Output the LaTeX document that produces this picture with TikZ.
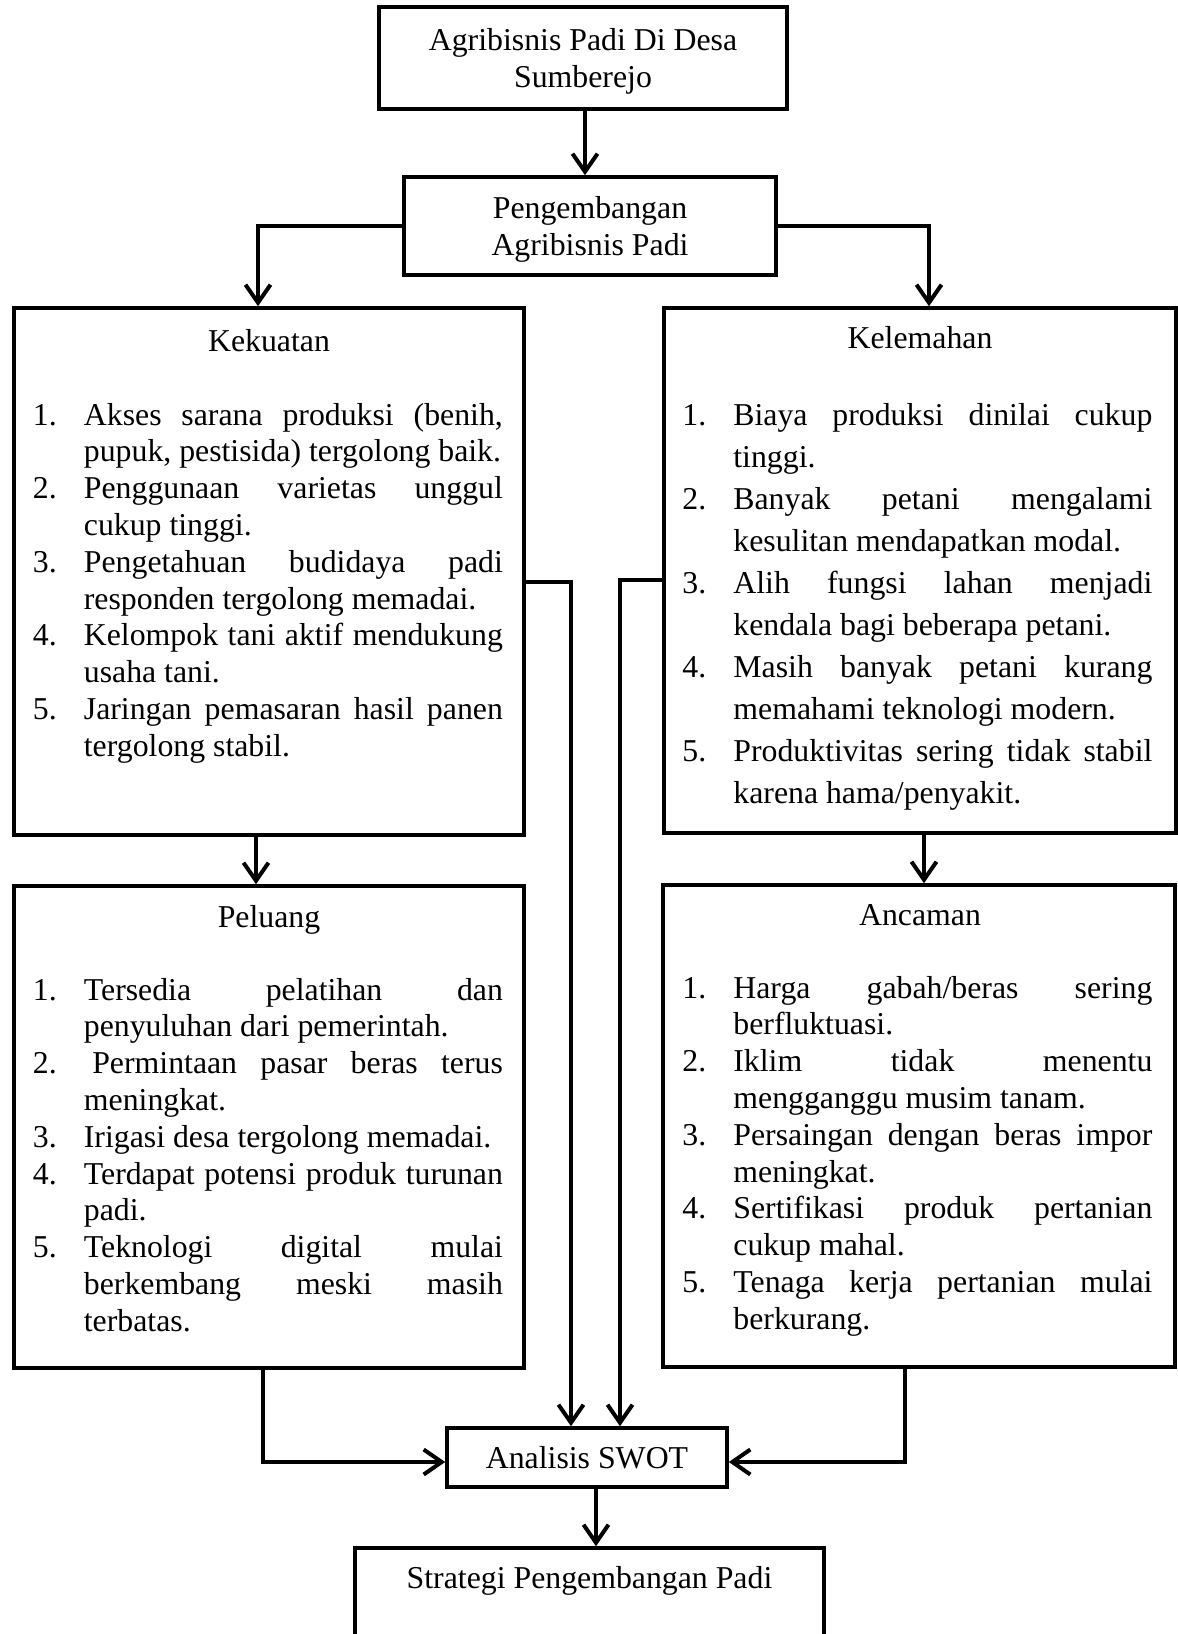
\documentclass[tikz,border=0pt]{standalone}
\usepackage{fontspec}
\setmainfont{Liberation Serif}
\usetikzlibrary{arrows.meta}

% numbered list used inside the four SWOT boxes
\newcounter{swotitem}
\newenvironment{swotlist}{%
  \begin{list}{\arabic{swotitem}.}{\usecounter{swotitem}%
    \setlength{\leftmargin}{25.5pt}\setlength{\labelwidth}{25.5pt}%
    \setlength{\labelsep}{0pt}\setlength{\itemsep}{0pt}%
    \setlength{\parsep}{0pt}\setlength{\topsep}{0pt}%
    \setlength{\partopsep}{0pt}\setlength{\itemindent}{0pt}%
    \setlength{\rightmargin}{0pt}%
    \def\makelabel##1{##1\hfil}}%
  \hyphenpenalty=10000 \exhyphenpenalty=10000 \hbadness=10000}
  {\end{list}}

\tikzset{
  box/.style={draw, line width=1.8pt, inner sep=0pt, align=center,
    font={\fontsize{15.9}{18.5}\selectfont}},
  title/.style={anchor=base, inner sep=0pt, font={\fontsize{15.9}{18.5}\selectfont}},
  items/.style={anchor=base west, text width=235pt, align=justify, inner sep=0pt,
    font={\fontsize{15.9}{18.4}\selectfont}},
  conn/.style={line width=2pt,
    -{Straight Barb[length=9pt,width=12.5pt,line width=2pt]}}
}

\begin{document}
\begin{tikzpicture}[x=0.5pt,y=-0.5pt]

  \useasboundingbox (0,0) rectangle (1178,1634);

  % Top of the chart
  \node[box, minimum width=204pt, minimum height=51pt] (top) at (583,58)
    {\rule{0pt}{14pt}Agribisnis Padi Di Desa\\Sumberejo};
  \node[box, minimum width=186pt, minimum height=49pt] (peng) at (590,226)
    {\rule{0pt}{14pt}Pengembangan\\Agribisnis Padi};

  % The four SWOT boxes
  \node[box, minimum width=255pt, minimum height=263.5pt] (kek) at (269,571.5) {};
  \node[box, minimum width=256pt, minimum height=262.5pt] (kel) at (920,570.5) {};
  \node[box, minimum width=255pt, minimum height=241pt] (pel) at (269,1127) {};
  \node[box, minimum width=256pt, minimum height=241pt] (anc) at (919,1126) {};

  % Titles of the SWOT boxes
  \node[title] (kektitle) at (269,351) {Kekuatan};
  \node[title] (keltitle) at (920,348) {Kelemahan};
  \node[title] (peltitle) at (269,927) {Peluang};
  \node[title] (anctitle) at (920,925) {Ancaman};

  % Kekuatan
  \node[items] (keklist) at (32.5,388.2) {%
    \begin{swotlist}
      \item Akses sarana produksi (benih,\linebreak pupuk, pestisida) tergolong baik.
      \item Penggunaan varietas unggul\linebreak cukup tinggi.
      \item Pengetahuan budidaya padi\linebreak responden tergolong memadai.
      \item Kelompok tani aktif mendukung\linebreak usaha tani.
      \item Jaringan pemasaran hasil panen\linebreak tergolong stabil.
    \end{swotlist}};

  % Kelemahan (wider line spacing)
  \node[items, font={\fontsize{15.9}{21.05}\selectfont}] (kellist) at (682,382.9) {%
    \begin{swotlist}
      \item Biaya produksi dinilai cukup\linebreak tinggi.
      \item Banyak petani mengalami\linebreak kesulitan mendapatkan modal.
      \item Alih fungsi lahan menjadi\linebreak kendala bagi beberapa petani.
      \item Masih banyak petani kurang\linebreak memahami teknologi modern.
      \item Produktivitas sering tidak stabil\linebreak karena hama/penyakit.
    \end{swotlist}};

  % Peluang
  \node[items] (pellist) at (32.5,963.2) {%
    \begin{swotlist}
      \item Tersedia pelatihan dan\linebreak penyuluhan dari pemerintah.
      \item \hspace*{4.2pt}Permintaan pasar beras terus\linebreak meningkat.
      \item Irigasi desa tergolong memadai.
      \item Terdapat potensi produk turunan\linebreak padi.
      \item Teknologi digital mulai\linebreak berkembang meski masih\linebreak terbatas.
    \end{swotlist}};

  % Ancaman
  \node[items] (anclist) at (682,961.2) {%
    \begin{swotlist}
      \item Harga gabah/beras sering\linebreak berfluktuasi.
      \item Iklim tidak menentu\linebreak mengganggu musim tanam.
      \item Persaingan dengan beras impor\linebreak meningkat.
      \item Sertifikasi produk pertanian\linebreak cukup mahal.
      \item Tenaga kerja pertanian mulai\linebreak berkurang.
    \end{swotlist}};

  % Bottom of the chart
  \node[box, minimum width=140pt, minimum height=29.5pt] (swot) at (587,1457.5)
    {Analisis SWOT};
  \node[box, minimum width=234.5pt, minimum height=76pt] (strat) at (589.5,1624) {};
  \node[title] (strattitle) at (589.5,1588) {Strategi Pengembangan Padi};

  % Connectors
  \draw[conn] ([xshift=1pt]top.south) -- ([xshift=1pt]top.south |- peng.north);
  \draw[conn] (peng.west) -| ([xshift=-5.5pt]kek.north);
  \draw[conn] (peng.east) -| ([xshift=4.5pt]kel.north);
  \draw[conn] ([xshift=-6.5pt]kek.south) -- ([xshift=-6.5pt]kek.south |- pel.north);
  \draw[conn] ([xshift=2pt]kel.south) -- ([xshift=2pt]kel.south |- anc.north);
  \draw[conn] ([yshift=-5.25pt]kek.east) -| ([xshift=-8pt]swot.north);
  \draw[conn] ([yshift=-4.75pt]kel.west) -| ([xshift=16.5pt]swot.north);
  \draw[conn] ([xshift=-3pt]pel.south) |- ([yshift=-2.25pt]swot.west);
  \draw[conn] ([xshift=-7pt]anc.south) |- ([yshift=-2.25pt]swot.east);
  \draw[conn] ([xshift=4.5pt]swot.south) -- ([xshift=4.5pt]swot.south |- strat.north);

\end{tikzpicture}
\end{document}
